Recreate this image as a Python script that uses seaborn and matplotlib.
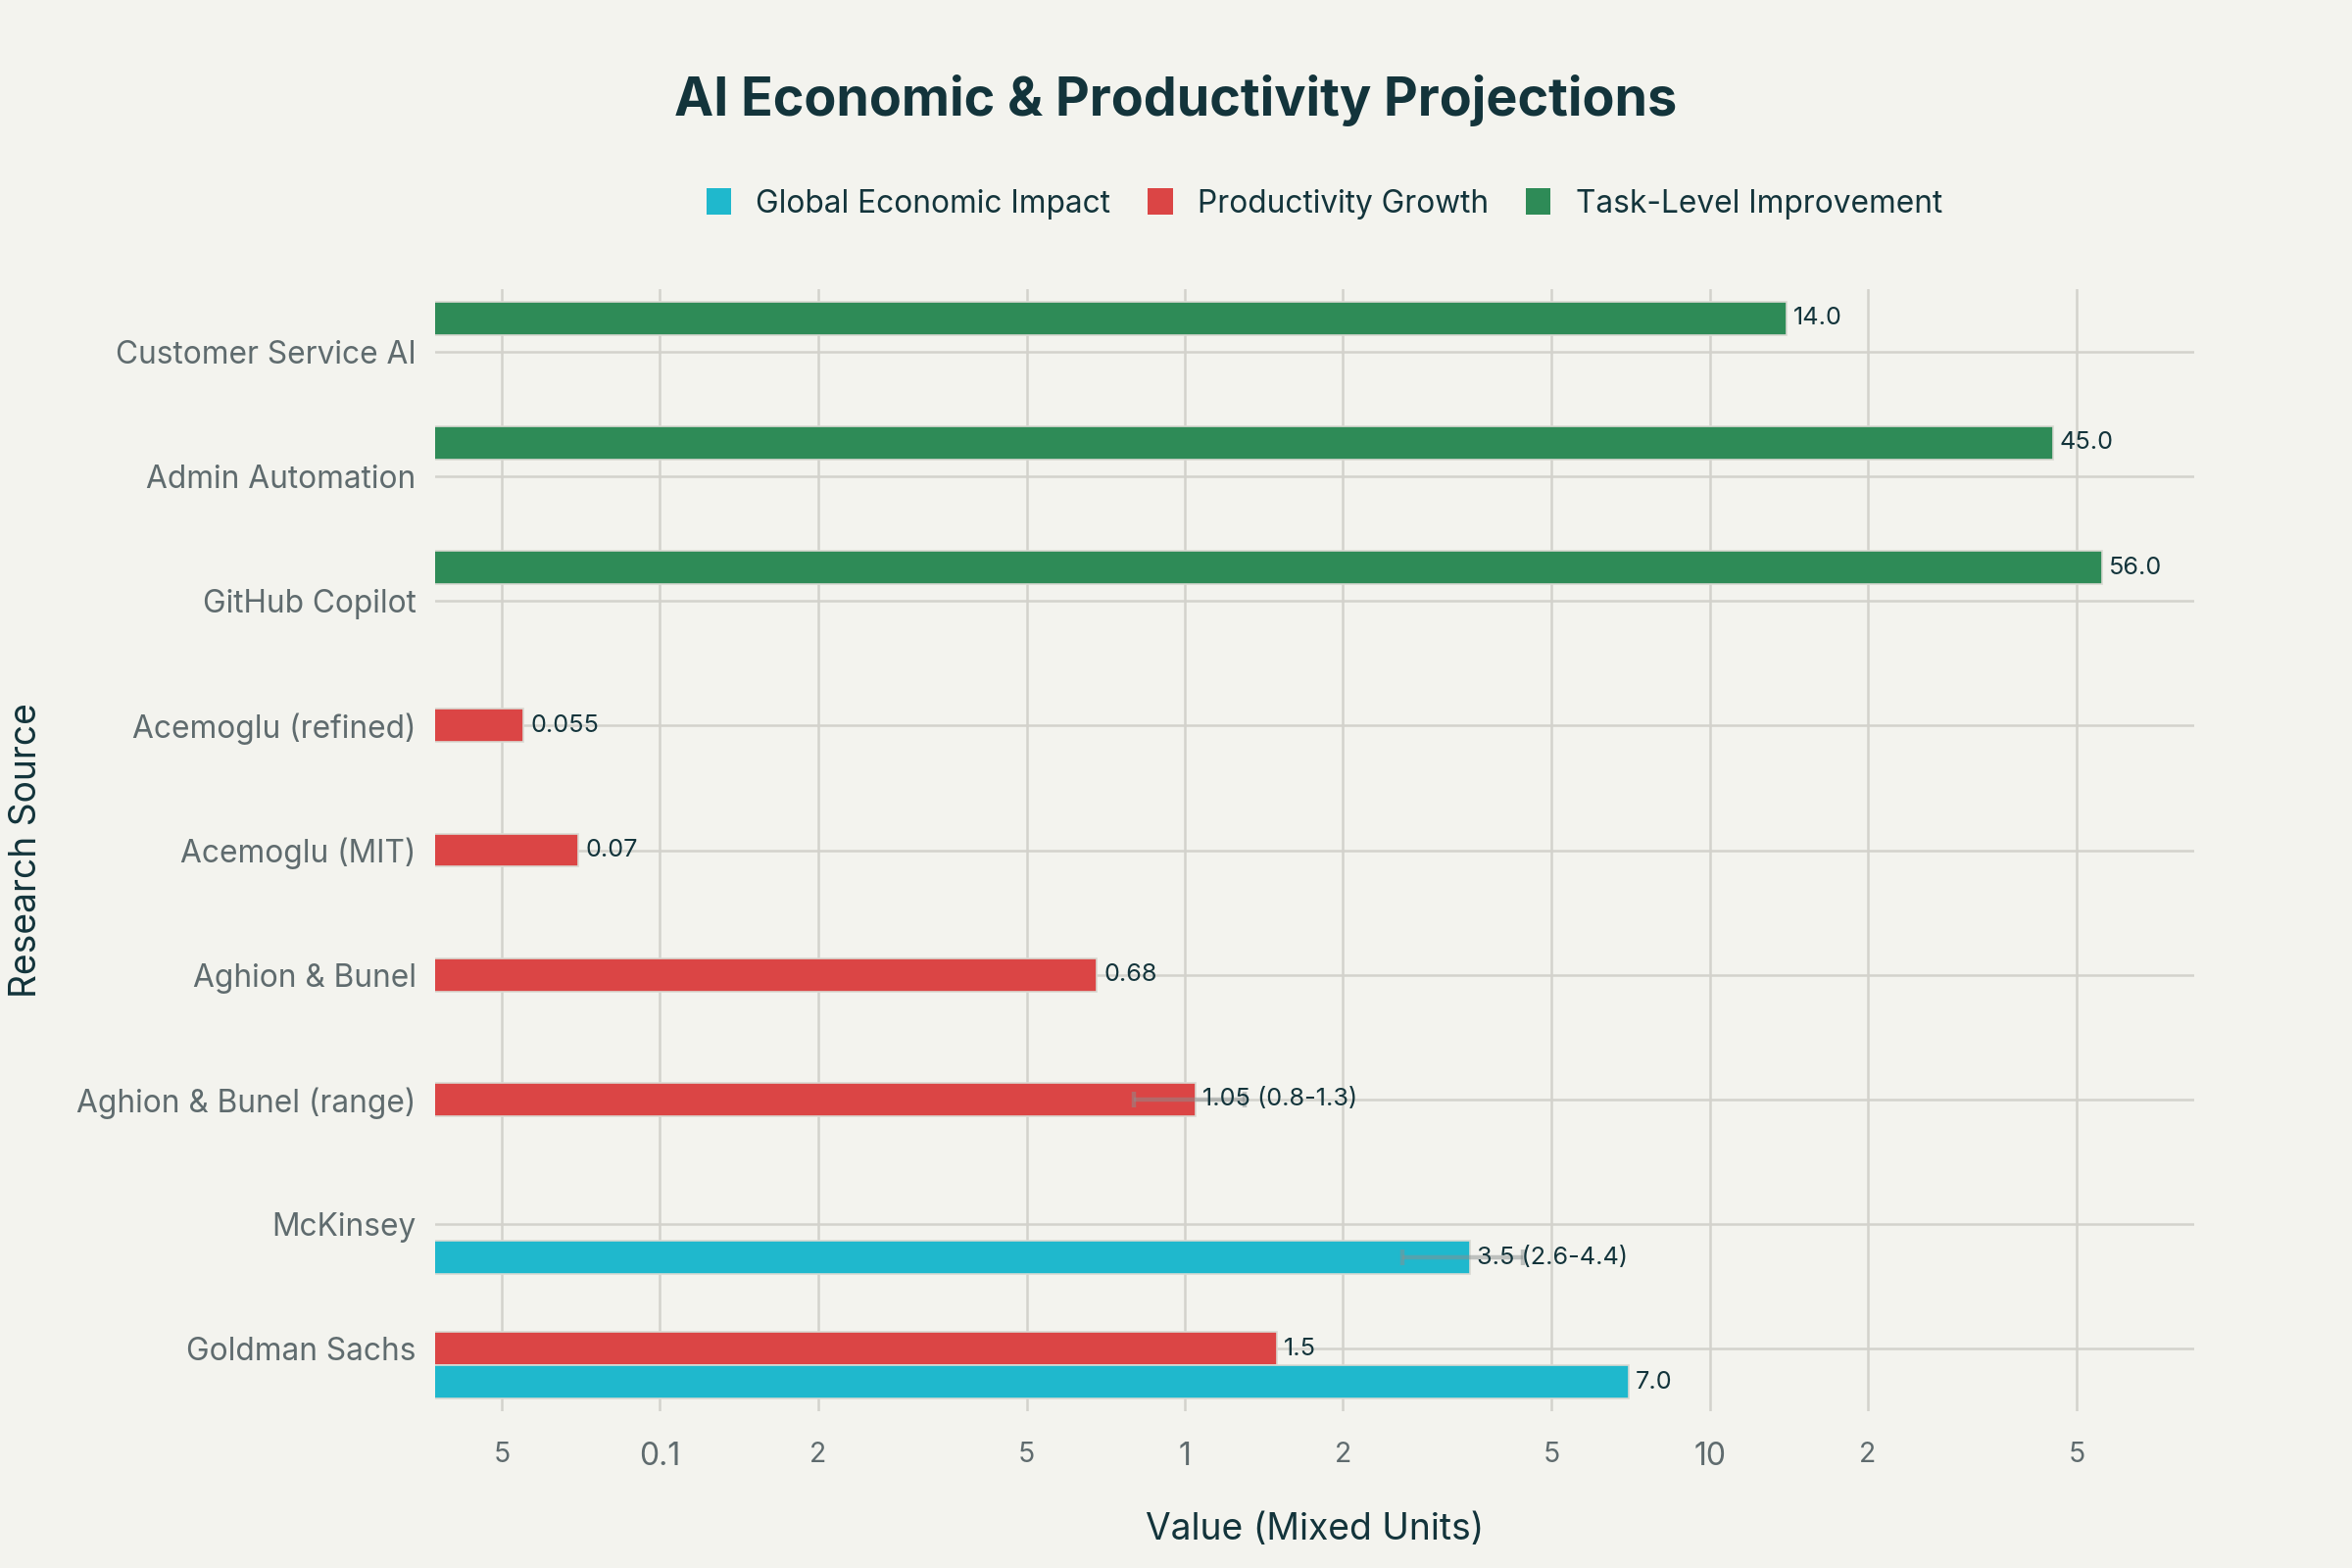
import matplotlib
matplotlib.use("Agg")
import matplotlib.pyplot as plt
import seaborn as sns
import pandas as pd
from matplotlib.patches import Patch

# data (top to bottom as drawn)
sources = ["Customer Service AI", "Admin Automation", "GitHub Copilot",
           "Acemoglu (refined)", "Acemoglu (MIT)", "Aghion & Bunel",
           "Aghion & Bunel (range)", "McKinsey", "Goldman Sachs"]

row_source = ["Customer Service AI", "Admin Automation", "GitHub Copilot",
              "Acemoglu (refined)", "Acemoglu (MIT)", "Aghion & Bunel",
              "Aghion & Bunel (range)", "McKinsey", "Goldman Sachs", "Goldman Sachs"]
row_series = ["Task-Level Improvement", "Task-Level Improvement", "Task-Level Improvement",
              "Productivity Growth", "Productivity Growth", "Productivity Growth",
              "Productivity Growth", "Global Economic Impact", "Productivity Growth",
              "Global Economic Impact"]
row_value = [14.0, 45.0, 56.0, 0.055, 0.07, 0.68, 1.05, 3.5, 1.5, 7.0]
row_label = ["14.0", "45.0", "56.0", "0.055", "0.07", "0.68",
             "1.05 (0.8-1.3)", "3.5 (2.6-4.4)", "1.5", "7.0"]
row_low = [None, None, None, None, None, None, 0.8, 2.6, None, None]
row_high = [None, None, None, None, None, None, 1.3, 4.4, None, None]

legend_order = ["Global Economic Impact", "Productivity Growth", "Task-Level Improvement"]
colors = {"Global Economic Impact": "#1FB8CD",
          "Productivity Growth": "#DB4545",
          "Task-Level Improvement": "#2E8B57"}

major_ticks = [0.1, 1, 10]
major_labels = ["0.1", "1", "10"]
minor_ticks = [0.05, 0.2, 0.5, 2, 5, 20, 50]
minor_labels = ["5", "2", "5", "2", "5", "2", "5"]

df = pd.DataFrame({"source": row_source, "series": row_series, "value": row_value})

BG = "#F3F3EE"
DARK = "#13343B"
GREY = "#5F6B6E"
GRID = "#D3D2CC"

sns.set_style("white")
plt.rcParams["font.family"] = ["Inter", "DejaVu Sans"]

fig = plt.figure(figsize=(12, 8), dpi=200, facecolor=BG)
ax = fig.add_axes([0.185, 0.1, 0.748, 0.7156])
ax.set_facecolor(BG)

hue_order = ["Task-Level Improvement", "Productivity Growth", "Global Economic Impact"]
sns.barplot(data=df, x="value", y="source", hue="series", order=sources,
            hue_order=hue_order, palette=colors, saturation=1, orient="h",
            dodge=True, width=0.8, edgecolor="#D9D9D2", linewidth=0.6, ax=ax,
            legend=False, zorder=2)

ax.set_xscale("log")
ax.set_xlim(0.0373, 83.8)
ax.set_ylim(len(sources) - 0.5, -0.5)

# labels + error bars, matched through the bar positions
for cont, ser in zip(ax.containers, hue_order):
    for bar in cont:
        if bar.get_width() != bar.get_width() or bar.get_width() <= 0:
            continue
        cy = bar.get_y() + bar.get_height() / 2
        src = sources[int(round(cy))]
        for i in range(len(row_source)):
            if row_source[i] == src and row_series[i] == ser:
                v = row_value[i]
                if row_low[i] is not None:
                    ax.errorbar(v, cy, xerr=[[v - row_low[i]], [row_high[i] - v]],
                                fmt="none", ecolor="#8A9090", alpha=0.5,
                                elinewidth=1.6, capsize=3, capthick=1.6, zorder=3)
                ax.text(v * 1.03, cy, row_label[i], va="center", ha="left",
                        fontsize=9.1, color=DARK, zorder=4)

ax.set_xticks(major_ticks, labels=major_labels)
ax.set_xticks(minor_ticks, labels=minor_labels, minor=True)
ax.tick_params(axis="x", which="major", labelsize=11.5, labelcolor=GREY,
               color=GRID, length=4, pad=7)
ax.tick_params(axis="x", which="minor", labelsize=10.2, labelcolor=GREY,
               color=GRID, length=4, pad=7)
ax.tick_params(axis="y", labelsize=11.4, labelcolor=GREY, color=GRID,
               length=5, width=1, pad=2)
ax.grid(True, which="both", axis="x", color=GRID, linewidth=0.9, zorder=0)
ax.grid(True, which="major", axis="y", color=GRID, linewidth=0.9, zorder=0)
ax.set_axisbelow(True)
for s in ax.spines.values():
    s.set_visible(False)

ax.set_xlabel("Value (Mixed Units)", fontsize=13.4, color=DARK, labelpad=15)
ax.set_ylabel("Research Source", fontsize=13.4, color=DARK)
ax.yaxis.set_label_coords(-0.222, 0.5)

fig.text(0.5, 0.936, "AI Economic & Productivity Projections", ha="center",
         va="center", fontsize=19.4, fontweight="bold", color=DARK)

handles = [Patch(facecolor=colors[s], edgecolor="none") for s in legend_order]
fig.legend(handles, legend_order, loc="center", bbox_to_anchor=(0.563, 0.870),
           ncol=3, frameon=False, fontsize=11.4, handlelength=0.8,
           handleheight=0.9, columnspacing=1.2, handletextpad=0.8,
           labelcolor=DARK)

fig.savefig("out.png", dpi=200, facecolor=BG)
